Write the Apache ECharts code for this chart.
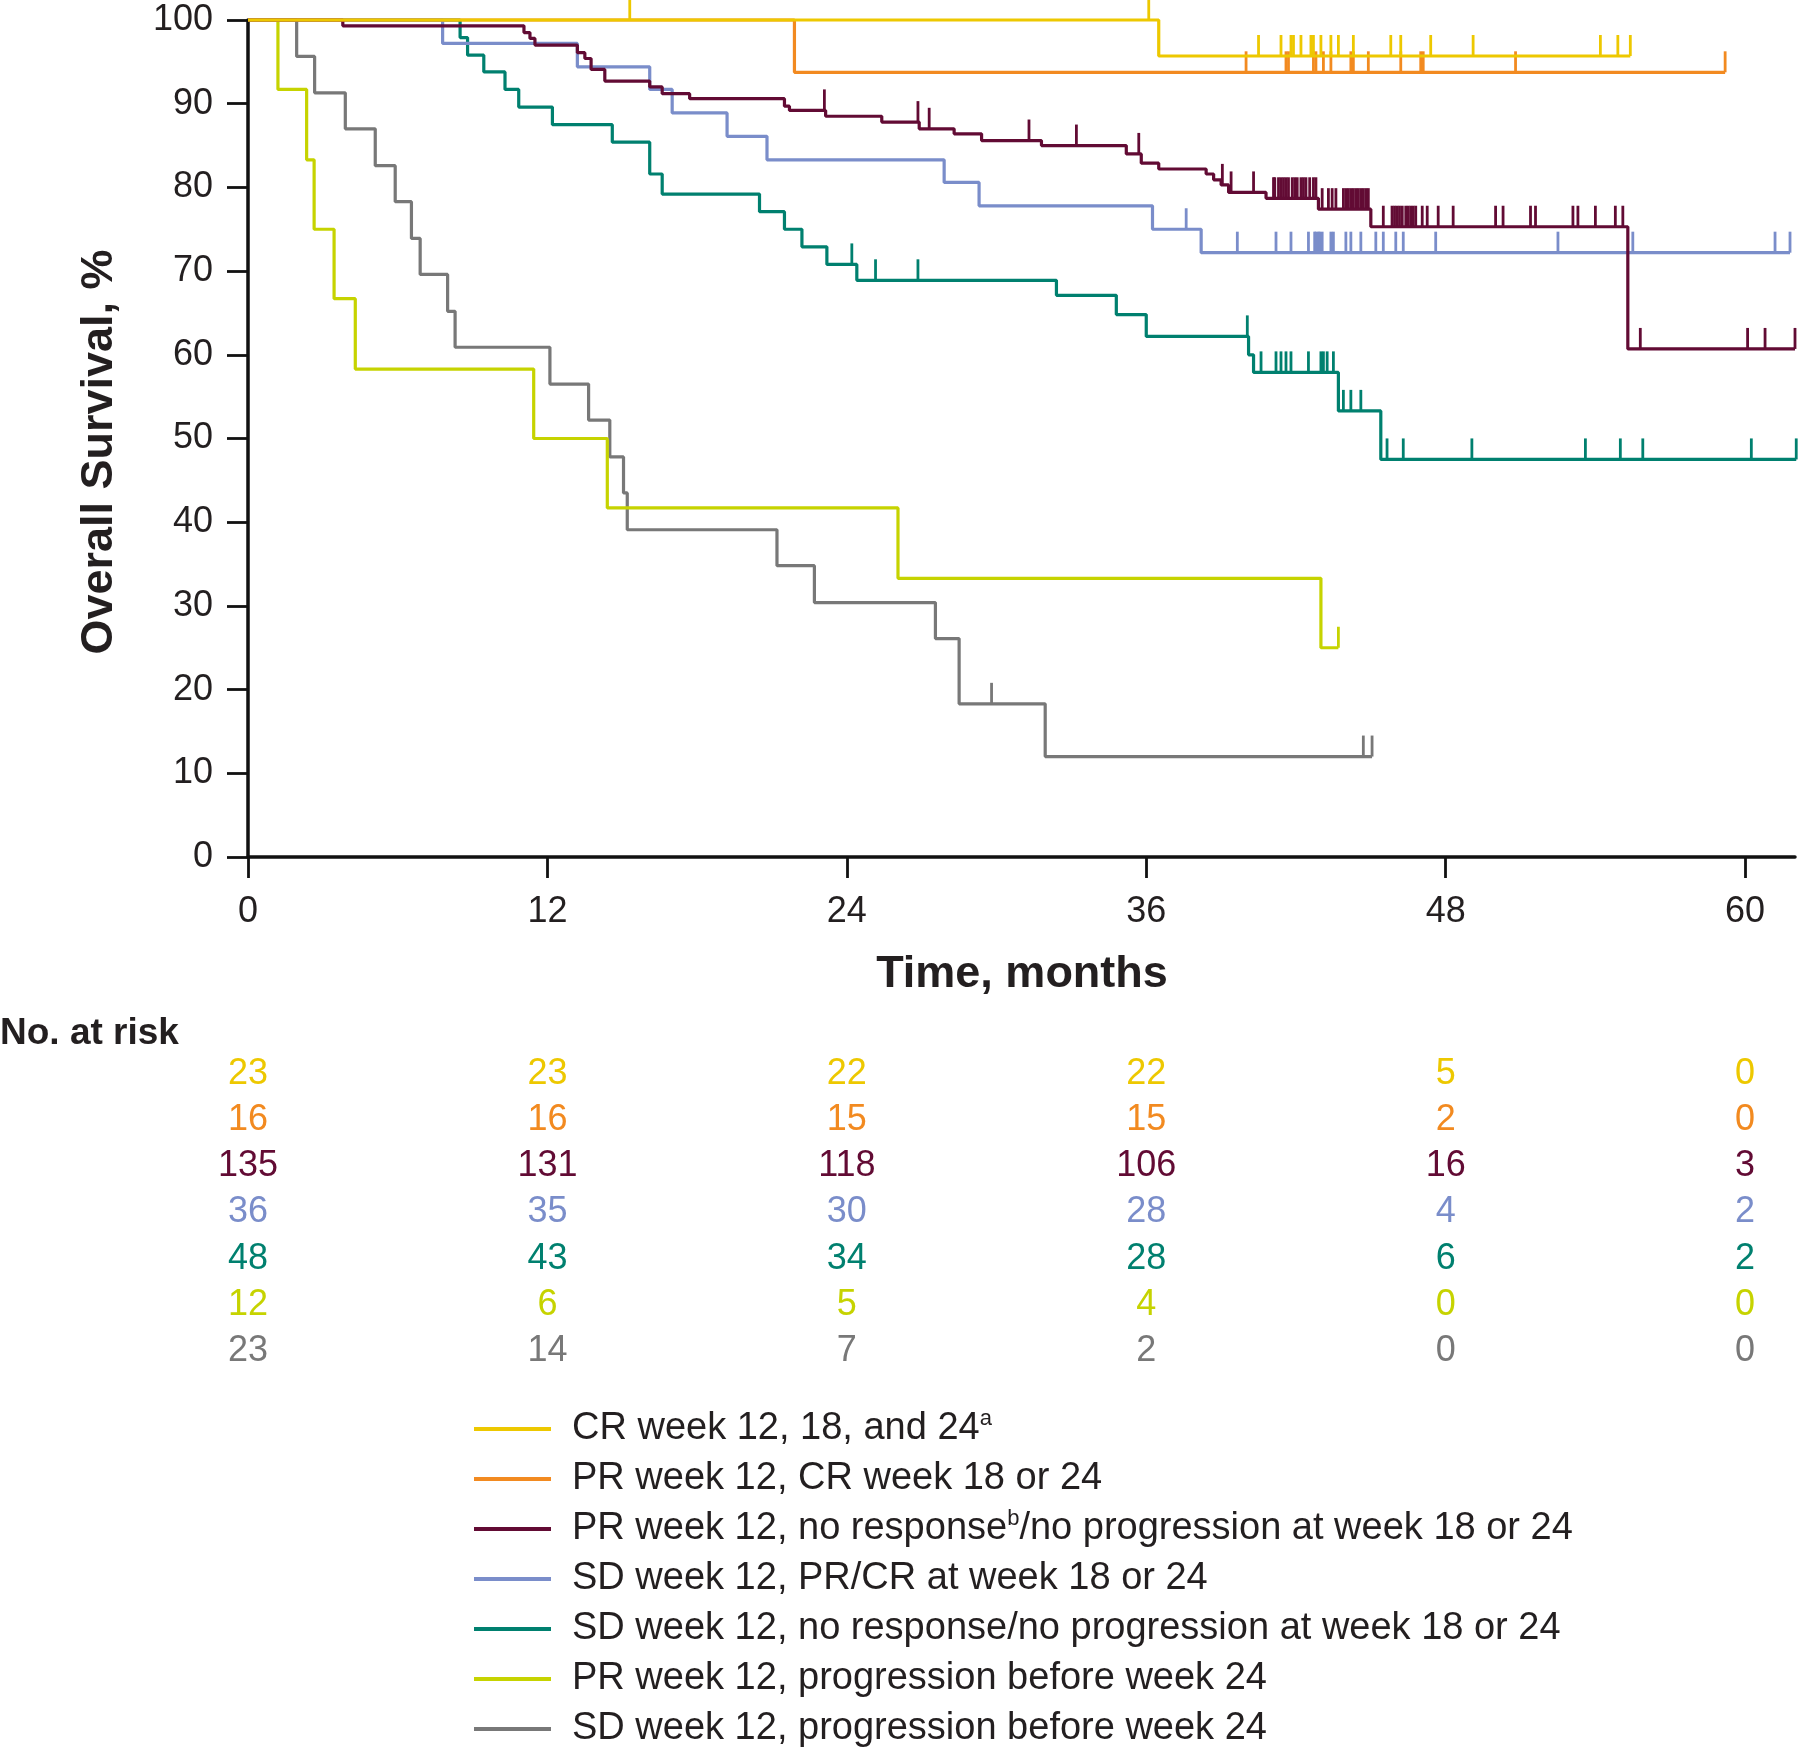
<!DOCTYPE html>
<html>
<head>
<meta charset="utf-8">
<script src="https://cdn.jsdelivr.net/npm/echarts@6/dist/echarts.min.js"></script>
<style>html,body{margin:0;padding:0;background:#fff}#c{width:1800px;height:1748px}</style>
</head>
<body>
<div id="c"></div>
<script>
// ---------- data ----------
const xTicks = [0, 12, 24, 36, 48, 60];
const yTicks = [0, 10, 20, 30, 40, 50, 60, 70, 80, 90, 100];

const seriesNames = [
  'CR week 12, 18, and 24',
  'PR week 12, CR week 18 or 24',
  'PR week 12, no response/no progression at week 18 or 24',
  'SD week 12, PR/CR at week 18 or 24',
  'SD week 12, no response/no progression at week 18 or 24',
  'PR week 12, progression before week 24',
  'SD week 12, progression before week 24'
];
const colors = ['#EDC800', '#F28A20', '#620B34', '#7A8DCA', '#00806F', '#C6D300', '#787878'];

// Kaplan-Meier steps: [month, survival %]
const curveCR = [[0,100],[36.5,95.7],[55.4,95.7]];
const curvePRCR = [[0,100],[21.9,93.75],[59.2,93.75]];
const curvePRnr = [[0,100],[3.8,99.3],[11.06,98.5],[11.3,97.8],[11.5,97.0],[13.2,96.1],[13.5,95.4],[13.75,94.1],[14.3,92.7],[16.1,92.0],[16.6,91.2],[17.7,90.6],[21.5,89.7],[21.7,89.2],[23.15,88.5],[25.4,87.8],[26.9,87.0],[28.3,86.4],[29.4,85.6],[31.8,85.0],[35.2,84.0],[35.8,82.9],[36.5,82.2],[38.4,81.6],[38.7,80.9],[39.0,80.3],[39.3,79.4],[40.8,78.7],[42.9,77.4],[45.0,75.3],[55.3,60.7],[62.0,60.7]];
const curveSDPR = [[0,100],[7.8,97.2],[13.2,94.4],[16.1,91.7],[17.0,88.9],[19.2,86.1],[20.8,83.3],[27.9,80.6],[29.3,77.8],[36.25,75.0],[38.2,72.2],[61.8,72.2]];
const curveSDnr = [[0,100],[8.5,97.9],[8.8,95.8],[9.45,93.8],[10.3,91.7],[10.85,89.6],[12.2,87.5],[14.6,85.4],[16.1,81.6],[16.6,79.2],[20.5,77.1],[21.5,75.0],[22.2,72.9],[23.2,70.8],[24.4,68.9],[32.4,67.1],[34.8,64.8],[36.0,62.2],[40.1,60.0],[40.3,57.9],[43.7,53.3],[45.4,47.5],[62.05,47.5]];
const curvePRprog = [[0,100],[1.2,91.7],[2.35,83.3],[2.65,75.0],[3.45,66.7],[4.3,58.3],[11.45,50.0],[14.4,41.7],[26.05,33.3],[43.0,25.0],[43.7,25.0]];
const curveSDprog = [[0,100],[1.95,95.65],[2.67,91.3],[3.9,87.0],[5.1,82.6],[5.9,78.3],[6.55,73.9],[6.9,69.6],[8.0,65.2],[8.3,60.9],[12.1,56.5],[13.65,52.2],[14.5,47.8],[15.05,43.5],[15.2,39.1],[21.2,34.8],[22.7,30.4],[27.55,26.1],[28.5,18.3],[31.95,12.0],[45.05,12.0]];

// censoring times (months)
const censorCR = [15.3,36.1,40.5,41.4,41.8,41.9,42.2,42.6,42.7,43.0,43.4,43.7,44.3,45.8,46.2,47.4,49.1,54.2,54.9,55.4];
const censorPRCR = [40.0,41.6,41.7,42.7,42.8,43.1,43.4,44.2,44.3,44.9,46.2,47.0,47.1,50.8,59.2];
const censorPRnr = [23.1,26.85,27.3,31.3,33.2,35.7,39.05,39.4,40.3,
  41.1,41.15,41.3,41.4,41.5,41.6,41.7,41.85,41.95,42.05,42.2,42.3,42.4,42.55,42.7,42.8,
  43.05,43.3,43.45,43.6,43.9,44.0,44.1,44.2,44.3,44.4,44.5,44.6,44.7,44.8,44.9,
  45.5,45.85,45.95,46.05,46.15,46.26,46.4,46.5,46.6,46.7,46.8,47.06,47.26,47.7,48.3,50.0,50.3,51.4,51.6,53.1,53.3,54.0,54.8,55.1,
  55.8,60.1,60.8,62.0];
const censorSDPR = [37.6,39.65,41.2,41.8,42.5,42.75,42.8,42.9,42.95,43.05,43.4,43.5,44.0,44.2,44.6,45.2,45.5,46.0,46.3,47.6,52.5,55.5,61.2,61.8];
const censorSDnr = [24.2,25.15,26.85,40.05,40.6,41.2,41.4,41.6,41.8,42.5,43.0,43.1,43.25,43.5,43.9,44.2,44.6,45.65,46.3,49.05,53.6,55.0,55.9,60.25,62.05];
const censorPRprog = [43.7];
const censorSDprog = [29.8,44.7,45.05];

// number at risk
const riskTimes = [0, 12, 24, 36, 48, 60];
const riskCR = [23, 23, 22, 22, 5, 0];
const riskPRCR = [16, 16, 15, 15, 2, 0];
const riskPRnr = [135, 131, 118, 106, 16, 3];
const riskSDPR = [36, 35, 30, 28, 4, 2];
const riskSDnr = [48, 43, 34, 28, 6, 2];
const riskPRprog = [12, 6, 5, 4, 0, 0];
const riskSDprog = [23, 14, 7, 2, 0, 0];

// ---------- build ----------
const curves = [curveCR, curvePRCR, curvePRnr, curveSDPR, curveSDnr, curvePRprog, curveSDprog];
const censors = [censorCR, censorPRCR, censorPRnr, censorSDPR, censorSDnr, censorPRprog, censorSDprog];
const risks = [riskCR, riskPRCR, riskPRnr, riskSDPR, riskSDnr, riskPRprog, riskSDprog];

function levelAt(curve, t) {
  let v = curve[0][1];
  for (const p of curve) { if (p[0] <= t) v = p[1]; }
  return v;
}

const FONT = '"Liberation Sans", Arial, sans-serif';
const TXT = '#231F20';
const series = [];
const drawOrder = [6, 5, 4, 3, 2, 1, 0];
drawOrder.forEach(i => {
  series.push({
    name: seriesNames[i], type: 'line', step: 'end', data: curves[i],
    xAxisIndex: 0, yAxisIndex: 0, showSymbol: false, symbol: 'none', clip: false,
    lineStyle: { color: colors[i], width: 3.2 }, itemStyle: { color: colors[i] },
    animation: false, z: 2 + (6 - i)
  });
  series.push({
    name: 'cens' + i, type: 'custom', xAxisIndex: 0, yAxisIndex: 0, clip: false,
    data: censors[i].map(t => [t, levelAt(curves[i], t)]),
    renderItem: function (params, api) {
      const p = api.coord([api.value(0), api.value(1)]);
      return { type: 'line', shape: { x1: p[0], y1: p[1], x2: p[0], y2: p[1] - 21 },
        style: { stroke: colors[i], lineWidth: 2.8 } };
    },
    animation: false, z: 2 + (6 - i)
  });
});

// risk table
const riskData = [];
risks.forEach((row, r) => row.forEach((v, k) => riskData.push([riskTimes[k], r, v])));
series.push({
  type: 'custom', name: 'risk', xAxisIndex: 1, yAxisIndex: 1, data: riskData, clip: false,
  renderItem: function (params, api) {
    const p = api.coord([api.value(0), api.value(1)]);
    const r = api.value(1);
    return { type: 'text', x: p[0], y: p[1],
      style: { text: String(api.value(2)), fill: colors[r], fontSize: 36, fontFamily: FONT,
        align: 'center', verticalAlign: 'middle' } };
  },
  animation: false
});

const chart = echarts.init(document.getElementById('c'), null, { renderer: 'canvas' });
chart.setOption({
  backgroundColor: '#ffffff',
  animation: false,
  grid: [
    { left: 248, right: 5, top: 20, bottom: 891 },
    { left: 248, right: 5, top: 1051, height: 323 }
  ],
  xAxis: [
    { type: 'value', gridIndex: 0, min: 0, max: 62, interval: 12,
      axisLine: { show: true, lineStyle: { color: '#111', width: 3.5 } },
      axisTick: { show: true, inside: false, length: 21, lineStyle: { color: '#111', width: 2.8 }, customValues: xTicks },
      axisLabel: { color: TXT, fontSize: 36, fontFamily: FONT, margin: 37, customValues: xTicks },
      splitLine: { show: false } },
    { type: 'value', gridIndex: 1, min: 0, max: 62, show: false }
  ],
  yAxis: [
    { type: 'value', gridIndex: 0, min: 0, max: 100, interval: 10,
      axisLine: { show: true, lineStyle: { color: '#111', width: 3.5 } },
      axisTick: { show: true, inside: false, length: 21, lineStyle: { color: '#111', width: 2.8 } },
      axisLabel: { color: TXT, fontSize: 36, fontFamily: FONT, margin: 35 },
      splitLine: { show: false } },
    { type: 'category', gridIndex: 1, inverse: true, show: false, data: seriesNames }
  ],
  legend: {
    orient: 'vertical', left: 474, top: 1408, height: 400, padding: 0,
    itemWidth: 77, itemHeight: 4, itemGap: 8,
    icon: 'rect', data: seriesNames, selectedMode: false,
    formatter: function (name) {
      if (name === seriesNames[0]) return 'CR week 12, 18, and 24{sup|a}';
      if (name === seriesNames[2]) return 'PR week 12, no response{sup|b}/no progression at week 18 or 24';
      return name;
    },
    textStyle: { color: TXT, fontSize: 38, fontFamily: FONT, lineHeight: 42, padding: [0, 0, 0, 16],
      rich: { sup: { fontSize: 22, fontFamily: FONT, color: TXT, lineHeight: 42, verticalAlign: 'top', padding: [0, 0, 16, 0] } } }
  },
  graphic: [
    { type: 'text', x: 100, y: 452, rotation: Math.PI / 2,
      style: { text: 'Overall Survival, %', fill: TXT, fontSize: 45, fontWeight: 'bold', fontFamily: FONT, align: 'center', verticalAlign: 'middle' } },
    { type: 'text', x: 1022, y: 975,
      style: { text: 'Time, months', fill: TXT, fontSize: 45, fontWeight: 'bold', fontFamily: FONT, align: 'center', verticalAlign: 'middle' } },
    { type: 'text', x: 0, y: 1034,
      style: { text: 'No. at risk', fill: TXT, fontSize: 37, fontWeight: 'bold', fontFamily: FONT, align: 'left', verticalAlign: 'middle' } }
  ],
  series: series
});
</script>
</body>
</html>
